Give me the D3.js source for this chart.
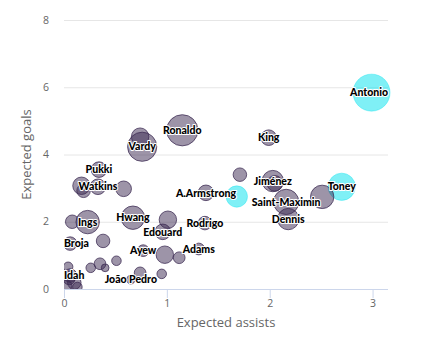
<!DOCTYPE html>
<html>
<head>
<meta charset="utf-8">
<script src="https://cdn.jsdelivr.net/npm/d3@7"></script>
<style>
  html, body { margin: 0; padding: 0; background: #fff; }
  svg { display: block; font-family: "Open Sans", "DejaVu Sans", sans-serif; }
</style>
</head>
<body>
<svg id="chart" width="421" height="343"></svg>
<script>
// Players: expected assists (x), expected goals (y), bubble size, highlighted flag
const players = ["Antonio","Toney","","A.Armstrong","","King","Ronaldo","Vardy","","Pukki",
  "Watkins","","","","Ings","","Hwang","","Edouard","Rodrigo",
  "Jiménez","","Saint-Maximin","Dennis","","Broja","","","","",
  "","Ayew","","","Adams","João Pedro","","","Idah","",
  "","","",""];
const xA = [2.99,2.70,1.68,1.38,1.71,1.99,1.15,0.76,0.74,0.34,
  0.33,0.17,0.19,0.58,0.23,0.08,0.67,1.01,0.96,1.37,
  2.03,2.05,2.16,2.18,2.51,0.06,0.38,0.26,0.35,0.40,
  0.51,0.77,0.98,1.12,1.31,0.65,0.74,0.95,0.06,0.04,
  0.10,0.02,0.05,0.13];
const xG = [5.84,3.04,2.75,2.86,3.40,4.50,4.72,4.23,4.53,3.55,
  3.04,3.07,2.92,2.98,1.99,2.00,2.12,2.06,1.70,1.96,
  3.21,3.14,2.59,2.08,2.74,1.35,1.43,0.63,0.75,0.63,
  0.84,1.14,1.02,0.93,1.19,0.28,0.48,0.45,0.40,0.66,
  0.19,0.10,0.30,0.06];
const shots = [90,49,30,16,12,16,64,56,20,16,
  16,20,12,16,36,12,36,20,16,12,
  30,16,42,30,36,12,12,6,9,4,
  6,9,20,9,9,5,9,6,12,6,
  12,9,9,6];
const highlight = [1,1,1,0,0,0,0,0,0,0,
  0,0,0,0,0,0,0,0,0,0,
  0,0,0,0,0,0,0,0,0,0,
  0,0,0,0,0,0,0,0,0,0,
  0,0,0,0];
const xTicks = [0, 1, 2, 3];
const yTicks = [0, 2, 4, 6, 8];

const data = players.map((name, i) => ({
  name, xa: xA[i], xg: xG[i], size: shots[i], hl: highlight[i] === 1
}));

const svg = d3.select("#chart");
const plotLeft = 64, plotRight = 388, plotTop = 20, plotBottom = 289;

const x = d3.scaleLinear().domain([0, 3.15]).range([plotLeft, plotRight]);
const y = d3.scaleLinear().domain([0, 8]).range([plotBottom, plotTop]);
const r = d3.scaleSqrt().domain([0, 90]).range([0, 18.5]);

// Horizontal grid lines
svg.append("g")
  .selectAll("line")
  .data(yTicks.filter(d => d > 0))
  .join("line")
  .attr("x1", plotLeft).attr("x2", plotRight)
  .attr("y1", d => y(d) + 0.5).attr("y2", d => y(d) + 0.5)
  .attr("stroke", "#e6e6e6").attr("stroke-width", 1);

// Y axis tick labels
svg.append("g")
  .selectAll("text")
  .data(yTicks)
  .join("text")
  .attr("x", 49).attr("y", d => y(d))
  .attr("dy", "0.35em")
  .attr("text-anchor", "end")
  .attr("font-size", 10.5)
  .attr("fill", "#666")
  .text(d => d);

// X axis
const xAxis = d3.axisBottom(x).tickValues(xTicks).tickSize(9).tickPadding(2).tickFormat(d3.format("d"));
const gx = svg.append("g").attr("transform", `translate(0,${plotBottom})`).call(xAxis);
gx.select(".domain").attr("stroke", "#ccd6eb").attr("d", `M${plotLeft},0.5H${plotRight}`);
gx.selectAll(".tick line").attr("stroke", "#ccd6eb");
gx.selectAll(".tick text").attr("fill", "#666").attr("font-size", 10.5)
  .attr("font-family", "\"Open Sans\", \"DejaVu Sans\", sans-serif");

// Axis titles
svg.append("text")
  .attr("x", (plotLeft + plotRight) / 2).attr("y", 327)
  .attr("text-anchor", "middle")
  .attr("font-size", 13).attr("fill", "#666")
  .text("Expected assists");

svg.append("text")
  .attr("transform", `translate(31,${(plotTop + plotBottom) / 2}) rotate(-90)`)
  .attr("text-anchor", "middle")
  .attr("font-size", 13).attr("fill", "#666")
  .text("Expected goals");

// Bubbles, clipped to the plot area
svg.append("clipPath").attr("id", "plot-clip")
  .append("rect").attr("x", plotLeft).attr("y", 0)
  .attr("width", plotRight - plotLeft + 40).attr("height", plotBottom);

svg.append("g").attr("clip-path", "url(#plot-clip)")
  .selectAll("circle")
  .data(data)
  .join("circle")
  .attr("cx", d => x(d.xa))
  .attr("cy", d => y(d.xg))
  .attr("r", d => r(d.size))
  .attr("fill", d => d.hl ? "rgba(0,226,238,0.5)" : "rgba(59,42,82,0.5)")
  .attr("stroke", d => d.hl ? "rgba(0,226,238,0.35)" : "rgba(59,42,82,0.75)")
  .attr("stroke-width", 1);

// Player name labels with a white halo, kept inside the plot width
const labels = svg.append("g")
  .selectAll("text")
  .data(data.filter(d => d.name))
  .join("text")
  .attr("y", d => y(d.xg))
  .attr("dy", "0.35em")
  .attr("text-anchor", "middle")
  .attr("font-family", "Lato, \"Open Sans\", sans-serif")
  .attr("font-weight", 900)
  .attr("font-size", 10.5)
  .attr("fill", "#000")
  .attr("stroke", "#fff")
  .attr("stroke-width", 2)
  .attr("stroke-linejoin", "round")
  .attr("paint-order", "stroke")
  .text(d => d.name);

labels.each(function(d) {
  const w = this.getComputedTextLength();
  const cx = Math.max(plotLeft + w / 2, Math.min(plotRight - w / 2, x(d.xa)));
  d3.select(this).attr("x", cx);
});
</script>
</body>
</html>
